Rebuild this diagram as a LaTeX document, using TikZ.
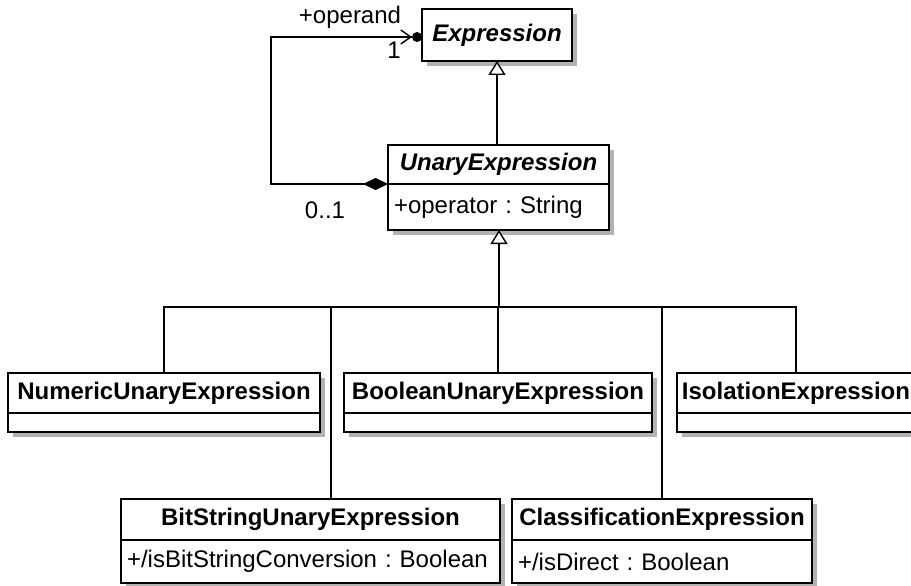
\documentclass[tikz,border=0pt]{standalone}
\usepackage{fontspec}
\setmainfont{Liberation Sans}
\usepackage{tikz}
\usetikzlibrary{arrows.meta, positioning, shadows}

\tikzset{
  classhead/.style={draw, fill=white, line width=1.6pt, outer sep=0pt, inner sep=0pt,
    font=\bfseries, drop shadow={shadow xshift=5pt, shadow yshift=-5pt, fill=black!30, opacity=1}},
  abstract/.style={font=\bfseries\itshape},
  classattr/.style={draw, fill=white, line width=1.6pt, outer sep=0pt, inner xsep=6pt, inner ysep=0pt,
    align=left, drop shadow={shadow xshift=5pt, shadow yshift=-5pt, fill=black!30, opacity=1}},
  link/.style={line width=1.4pt},
  inherit/.style={link, -{Triangle[fill=white, length=14pt, width=17pt]}},
  owned/.style={link, {Diamond[length=25pt, width=12pt]}-{Straight Barb[length=10pt, width=14pt]Circle[length=10pt, width=10pt, line width=0pt]}}
}

\begin{document}
\frenchspacing
\fontsize{24}{28}\selectfont
\begin{tikzpicture}[x=1pt, y=-1pt]
  \useasboundingbox (0,0) rectangle (911,586);
  % Nadrazene tridy
  \node[classhead, abstract, minimum width=150pt, minimum height=52pt] (expr) at (497,35) {Expression};
  \node[classhead, abstract, minimum width=221pt, minimum height=39pt] (unary) at (498.5,164.5) {UnaryExpression};
  \node[classattr, text width=209pt, minimum height=46pt, below=0pt of unary] (unaryAttr) {+operator : String};
  % Potomci - prvni rada
  \node[classhead, minimum width=312pt, minimum height=40pt] (numeric) at (164,393) {NumericUnaryExpression};
  \node[classattr, minimum width=312pt, minimum height=19pt, below=0pt of numeric] (numericAttr) {};
  \node[classhead, minimum width=308pt, minimum height=40pt] (boolean) at (498,393) {BooleanUnaryExpression};
  \node[classattr, minimum width=308pt, minimum height=19pt, below=0pt of boolean] (booleanAttr) {};
  \node[classhead, minimum width=238pt, minimum height=40pt] (isolation) at (796,393) {IsolationExpression};
  \node[classattr, minimum width=238pt, minimum height=19pt, below=0pt of isolation] (isolationAttr) {};
  % Potomci - druha rada
  \node[classhead, minimum width=379pt, minimum height=41pt] (bitstring) at (310.5,519.5) {BitStringUnaryExpression};
  \node[classattr, text width=367pt, minimum height=43pt, below=0pt of bitstring] (bitstringAttr) {+/isBitStringConversion : Boolean};
  \node[classhead, minimum width=300pt, minimum height=41pt] (classif) at (662,519.5) {ClassificationExpression};
  \node[classattr, text width=288pt, minimum height=43pt, below=0pt of classif] (classifAttr) {+/isDirect : Boolean};
  % Dedicnost
  \draw[inherit] (unary.north -| expr.south) -- (expr.south);
  \coordinate (split) at (499,307);
  \coordinate (bitTop) at ([xshift=20.5pt]bitstring.north);
  \draw[link] (numeric.north) |- (split) -| (isolation.north);
  \draw[link] (boolean.north) -- (boolean.north |- split);
  \draw[link] (bitTop) -- (bitTop |- split);
  \draw[link] (classif.north) -- (classif.north |- split);
  \draw[inherit] (split) -- (split |- unaryAttr.south);
  % Asociace operand
  \coordinate (bend) at (271,37);
  \draw[owned] (unaryAttr.north west) -| (bend) -- (bend -| expr.west);
  \node (operandLbl) at (350,17) {+operand};
  \node (oneLbl) at (394,50) {1};
  \node (zeroOneLbl) at (325,210) {0..1};
\end{tikzpicture}
\end{document}
